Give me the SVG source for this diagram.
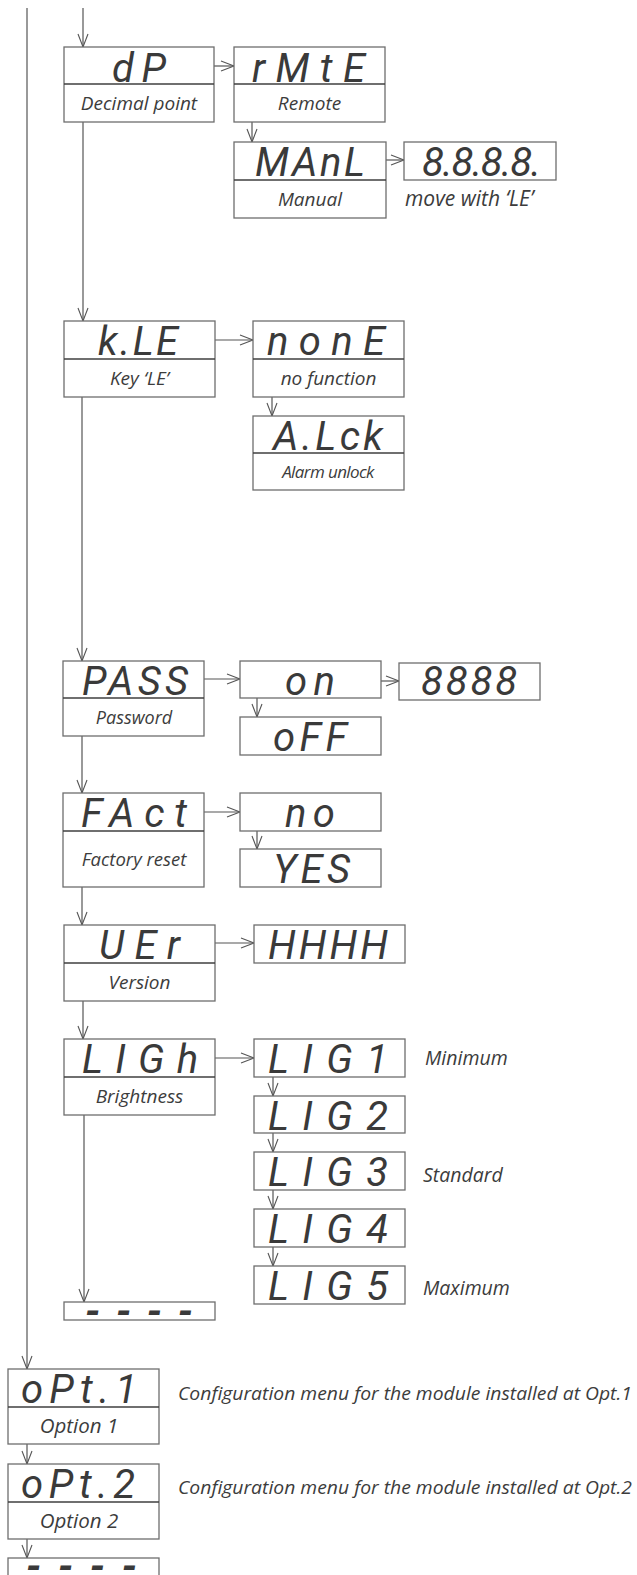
<svg xmlns="http://www.w3.org/2000/svg" width="637" height="1575" viewBox="0 0 637 1575">
<style>
.bg{fill:#fff}
.box{fill:#fff;stroke:#6e6e6e;stroke-width:1.3}
.div{stroke:#3f3f3f;stroke-width:1.4}
.seg{font-family:Roboto,"DejaVu Sans",sans-serif;font-weight:400;font-style:italic;font-size:40px;fill:#3a3a3a;text-anchor:middle}
.dash{font-weight:700}
.lbl{font-family:"Open Sans","DejaVu Sans",sans-serif;font-style:italic;font-size:19px;fill:#3c3c3c;text-anchor:middle}
.note{font-family:"Open Sans","DejaVu Sans",sans-serif;font-style:italic;font-size:19.5px;fill:#3c3c3c}
.big{font-size:21px}
.cfg{font-size:19px}
.con{fill:none;stroke:#555;stroke-width:1.2}
</style>
<defs>
<marker id="ah" markerUnits="userSpaceOnUse" markerWidth="15" markerHeight="12" refX="13" refY="5" orient="auto" overflow="visible">
<path d="M0,0 L13,5 L0,10" fill="none" stroke="#555" stroke-width="1.1"/>
</marker>
</defs>
<rect class="bg" x="0" y="0" width="637" height="1575"/>

<g id="connectors">
<line class="con" x1="27" y1="8" x2="27" y2="1369" marker-end="url(#ah)"/>
<line class="con" x1="83" y1="8" x2="83" y2="47" marker-end="url(#ah)"/>
<line class="con" x1="214" y1="66" x2="234" y2="66" marker-end="url(#ah)"/>
<line class="con" x1="252" y1="122" x2="252" y2="142" marker-end="url(#ah)"/>
<line class="con" x1="386" y1="160" x2="404" y2="160" marker-end="url(#ah)"/>
<line class="con" x1="83" y1="122" x2="83" y2="321" marker-end="url(#ah)"/>
<line class="con" x1="215" y1="340" x2="253" y2="340" marker-end="url(#ah)"/>
<line class="con" x1="272" y1="397" x2="272" y2="416" marker-end="url(#ah)"/>
<line class="con" x1="82" y1="397" x2="82" y2="661" marker-end="url(#ah)"/>
<line class="con" x1="204" y1="679" x2="240" y2="679" marker-end="url(#ah)"/>
<line class="con" x1="381" y1="681" x2="399" y2="681" marker-end="url(#ah)"/>
<line class="con" x1="257" y1="698" x2="257" y2="717" marker-end="url(#ah)"/>
<line class="con" x1="82" y1="736" x2="82" y2="793" marker-end="url(#ah)"/>
<line class="con" x1="204" y1="812" x2="240" y2="812" marker-end="url(#ah)"/>
<line class="con" x1="257" y1="831" x2="257" y2="849" marker-end="url(#ah)"/>
<line class="con" x1="82" y1="887" x2="82" y2="925" marker-end="url(#ah)"/>
<line class="con" x1="215" y1="943" x2="254" y2="943" marker-end="url(#ah)"/>
<line class="con" x1="83" y1="1001" x2="83" y2="1039" marker-end="url(#ah)"/>
<line class="con" x1="215" y1="1058" x2="254" y2="1058" marker-end="url(#ah)"/>
<line class="con" x1="273" y1="1077" x2="273" y2="1096" marker-end="url(#ah)"/>
<line class="con" x1="273" y1="1133" x2="273" y2="1152" marker-end="url(#ah)"/>
<line class="con" x1="273" y1="1190" x2="273" y2="1209" marker-end="url(#ah)"/>
<line class="con" x1="273" y1="1247" x2="273" y2="1266" marker-end="url(#ah)"/>
<line class="con" x1="84" y1="1115" x2="84" y2="1302" marker-end="url(#ah)"/>
<line class="con" x1="27" y1="1444" x2="27" y2="1464" marker-end="url(#ah)"/>
<line class="con" x1="27" y1="1539" x2="27" y2="1558" marker-end="url(#ah)"/>
</g>

<g id="dP">
<rect class="box" x="64" y="47" width="150" height="75"/>
<line class="div" x1="64" y1="84" x2="214" y2="84"/>
<text class="seg" x="139" y="82" textLength="54" lengthAdjust="spacing">dP</text>
<text class="lbl" x="139" y="110">Decimal point</text>
</g>
<g id="rMtE">
<rect class="box" x="234" y="47" width="151" height="75"/>
<line class="div" x1="234" y1="84" x2="385" y2="84"/>
<text class="seg" x="308.5" y="82" textLength="113" lengthAdjust="spacing">rMtE</text>
<text class="lbl" x="309.5" y="110">Remote</text>
</g>
<g id="MAnL">
<rect class="box" x="234" y="142" width="152" height="76"/>
<line class="div" x1="234" y1="180" x2="386" y2="180"/>
<text class="seg" x="310" y="176" textLength="110" lengthAdjust="spacing">MAnL</text>
<text class="lbl" x="310" y="206">Manual</text>
</g>
<g id="digits8">
<rect class="box" x="404" y="142" width="152" height="38"/>
<text class="seg" x="481.5" y="176" textLength="119" lengthAdjust="spacing">8.8.8.8.</text>
<text class="note big" x="405" y="206">move with ‘LE’</text>
</g>

<g id="kLE">
<rect class="box" x="64" y="321" width="151" height="76"/>
<line class="div" x1="64" y1="359" x2="215" y2="359"/>
<text class="seg" x="138" y="355" textLength="80" lengthAdjust="spacing">k.LE</text>
<text class="lbl" x="139.5" y="385">Key ‘LE’</text>
</g>
<g id="nonE">
<rect class="box" x="253" y="321" width="151" height="76"/>
<line class="div" x1="253" y1="359" x2="404" y2="359"/>
<text class="seg" x="326" y="355" textLength="118" lengthAdjust="spacing">nonE</text>
<text class="lbl" x="328.5" y="385">no function</text>
</g>
<g id="ALck">
<rect class="box" x="253" y="416" width="151" height="74"/>
<line class="div" x1="253" y1="453" x2="404" y2="453"/>
<text class="seg" x="328" y="450" textLength="110" lengthAdjust="spacing">A.Lck</text>
<text class="lbl" x="328" y="478" style="font-size:17px;letter-spacing:-0.6px">Alarm unlock</text>
</g>

<g id="PASS">
<rect class="box" x="63" y="661" width="141" height="75"/>
<line class="div" x1="63" y1="698" x2="204" y2="698"/>
<text class="seg" x="135" y="695" textLength="106" lengthAdjust="spacing">PASS</text>
<text class="lbl" x="134" y="724" style="font-size:18px">Password</text>
</g>
<g id="on">
<rect class="box" x="240" y="661" width="141" height="37"/>
<text class="seg" x="310" y="695" textLength="50" lengthAdjust="spacing">on</text>
</g>
<g id="d8888">
<rect class="box" x="399" y="663" width="141" height="37"/>
<text class="seg" x="469" y="695" textLength="96" lengthAdjust="spacing">8888</text>
</g>
<g id="oFF">
<rect class="box" x="240" y="717" width="141" height="38"/>
<text class="seg" x="310" y="751" textLength="74" lengthAdjust="spacing">oFF</text>
</g>

<g id="FAct">
<rect class="box" x="63" y="793" width="141" height="94"/>
<line class="div" x1="63" y1="831" x2="204" y2="831"/>
<text class="seg" x="134" y="827" textLength="106" lengthAdjust="spacing">FAct</text>
<text class="lbl" x="134" y="866" style="font-size:18.5px">Factory reset</text>
</g>
<g id="no">
<rect class="box" x="240" y="793" width="141" height="38"/>
<text class="seg" x="310" y="827" textLength="50" lengthAdjust="spacing">no</text>
</g>
<g id="YES">
<rect class="box" x="240" y="849" width="141" height="38"/>
<text class="seg" x="311.5" y="883" textLength="77" lengthAdjust="spacing">YES</text>
</g>

<g id="UEr">
<rect class="box" x="64" y="925" width="151" height="76"/>
<line class="div" x1="64" y1="963" x2="215" y2="963"/>
<text class="seg" x="139.5" y="959" textLength="81" lengthAdjust="spacing">UEr</text>
<text class="lbl" x="139.5" y="989">Version</text>
</g>
<g id="HHHH">
<rect class="box" x="254" y="925" width="151" height="38"/>
<text class="seg" x="328" y="959" textLength="120" lengthAdjust="spacing">HHHH</text>
</g>

<g id="LIGh">
<rect class="box" x="64" y="1039" width="151" height="76"/>
<line class="div" x1="64" y1="1077" x2="215" y2="1077"/>
<text class="seg" x="140" y="1073" textLength="116" lengthAdjust="spacing">LIGh</text>
<text class="lbl" x="139.5" y="1103">Brightness</text>
</g>
<g id="LIG1">
<rect class="box" x="254" y="1039" width="151" height="38"/>
<text class="seg" x="328" y="1073" textLength="120" lengthAdjust="spacing">LIG1</text>
<text class="note" x="425" y="1065">Minimum</text>
</g>
<g id="LIG2">
<rect class="box" x="254" y="1096" width="151" height="37"/>
<text class="seg" x="328" y="1130" textLength="120" lengthAdjust="spacing">LIG2</text>
</g>
<g id="LIG3">
<rect class="box" x="254" y="1152" width="151" height="38"/>
<text class="seg" x="328" y="1186" textLength="120" lengthAdjust="spacing">LIG3</text>
<text class="note" x="423" y="1182">Standard</text>
</g>
<g id="LIG4">
<rect class="box" x="254" y="1209" width="151" height="38"/>
<text class="seg" x="328" y="1243" textLength="120" lengthAdjust="spacing">LIG4</text>
</g>
<g id="LIG5">
<rect class="box" x="254" y="1266" width="151" height="38"/>
<text class="seg" x="328" y="1300" textLength="120" lengthAdjust="spacing">LIG5</text>
<text class="note" x="423" y="1295">Maximum</text>
</g>
<g id="end1">
<rect class="box" x="64" y="1302" width="151" height="18"/>
<text class="seg dash" x="139" y="1325" textLength="108" lengthAdjust="spacing">----</text>
</g>

<g id="oPt1">
<rect class="box" x="8" y="1369" width="151" height="75"/>
<line class="div" x1="8" y1="1407" x2="159" y2="1407"/>
<text class="seg" x="79" y="1403" textLength="116" lengthAdjust="spacing">oPt.1</text>
<text class="lbl" x="79" y="1433" style="font-size:20.5px">Option 1</text>
<text class="note cfg" x="178" y="1400" textLength="454" lengthAdjust="spacingAndGlyphs">Configuration menu for the module installed at Opt.1</text>
</g>
<g id="oPt2">
<rect class="box" x="8" y="1464" width="151" height="75"/>
<line class="div" x1="8" y1="1502" x2="159" y2="1502"/>
<text class="seg" x="78" y="1498" textLength="114" lengthAdjust="spacing">oPt.2</text>
<text class="lbl" x="79" y="1528" style="font-size:20.5px">Option 2</text>
<text class="note cfg" x="178" y="1494" textLength="454" lengthAdjust="spacingAndGlyphs">Configuration menu for the module installed at Opt.2</text>
</g>
<g id="end2">
<rect class="box" x="8" y="1558" width="151" height="30"/>
<text class="seg dash" x="81.5" y="1580" textLength="111" lengthAdjust="spacing">----</text>
</g>
</svg>
